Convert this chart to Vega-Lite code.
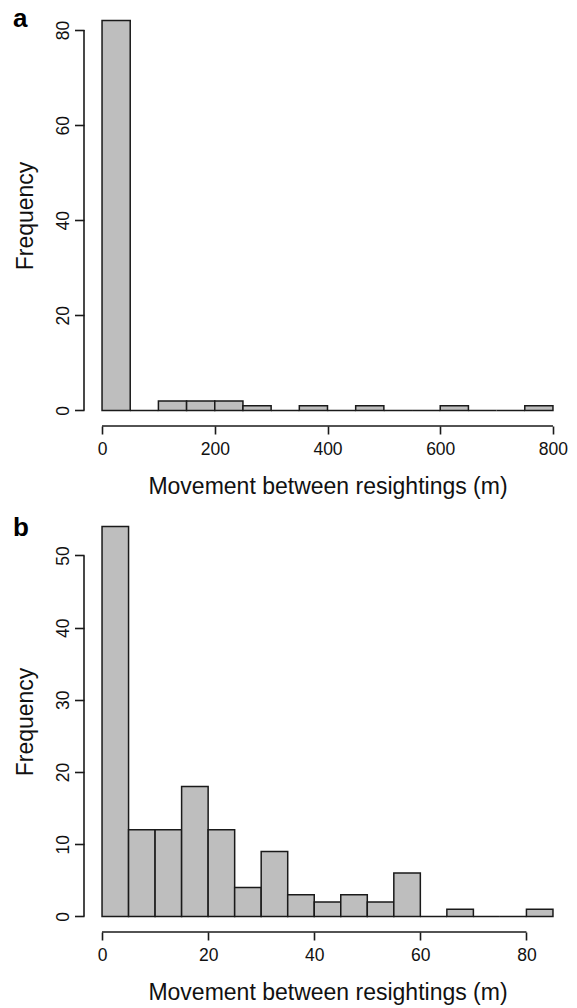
{
  "$schema": "https://vega.github.io/schema/vega-lite/v6.json",
  "padding": {"left": 12, "top": 5, "right": 0, "bottom": 0},
  "autosize": {"type": "pad"},
  "background": "white",
  "datasets": {
    "a": [
      {"bin_start": 0, "bin_end": 50, "count": 82},
      {"bin_start": 50, "bin_end": 100, "count": 0},
      {"bin_start": 100, "bin_end": 150, "count": 2},
      {"bin_start": 150, "bin_end": 200, "count": 2},
      {"bin_start": 200, "bin_end": 250, "count": 2},
      {"bin_start": 250, "bin_end": 300, "count": 1},
      {"bin_start": 300, "bin_end": 350, "count": 0},
      {"bin_start": 350, "bin_end": 400, "count": 1},
      {"bin_start": 400, "bin_end": 450, "count": 0},
      {"bin_start": 450, "bin_end": 500, "count": 1},
      {"bin_start": 500, "bin_end": 550, "count": 0},
      {"bin_start": 550, "bin_end": 600, "count": 0},
      {"bin_start": 600, "bin_end": 650, "count": 1},
      {"bin_start": 650, "bin_end": 700, "count": 0},
      {"bin_start": 700, "bin_end": 750, "count": 0},
      {"bin_start": 750, "bin_end": 800, "count": 1}
    ],
    "b": [
      {"bin_start": 0, "bin_end": 5, "count": 54},
      {"bin_start": 5, "bin_end": 10, "count": 12},
      {"bin_start": 10, "bin_end": 15, "count": 12},
      {"bin_start": 15, "bin_end": 20, "count": 18},
      {"bin_start": 20, "bin_end": 25, "count": 12},
      {"bin_start": 25, "bin_end": 30, "count": 4},
      {"bin_start": 30, "bin_end": 35, "count": 9},
      {"bin_start": 35, "bin_end": 40, "count": 3},
      {"bin_start": 40, "bin_end": 45, "count": 2},
      {"bin_start": 45, "bin_end": 50, "count": 3},
      {"bin_start": 50, "bin_end": 55, "count": 2},
      {"bin_start": 55, "bin_end": 60, "count": 6},
      {"bin_start": 60, "bin_end": 65, "count": 0},
      {"bin_start": 65, "bin_end": 70, "count": 1},
      {"bin_start": 70, "bin_end": 75, "count": 0},
      {"bin_start": 75, "bin_end": 80, "count": 0},
      {"bin_start": 80, "bin_end": 85, "count": 1}
    ]
  },
  "config": {
    "view": {"stroke": null},
    "font": "Liberation Sans",
    "axis": {
      "grid": false,
      "domain": false,
      "labelFont": "Liberation Sans",
      "labelFontSize": 17.5,
      "labelColor": "#111",
      "tickColor": "#1a1a1a",
      "tickWidth": 1.6,
      "titleFont": "Liberation Sans",
      "titleFontSize": 23,
      "titleFontWeight": "normal",
      "titleColor": "#111",
      "labelFlush": false,
      "labelOverlap": false
    },
    "axisX": {"tickSize": 8, "labelPadding": 6, "titlePadding": 18},
    "axisY": {
      "tickSize": 9.5,
      "labelPadding": 6,
      "labelAngle": -90,
      "labelAlign": "center",
      "labelBaseline": "alphabetic",
      "titlePadding": 22,
      "titleAngle": -90,
      "titleBaseline": "alphabetic"
    }
  },
  "spacing": 12,
  "vconcat": [
    {
      "width": 487,
      "height": 421,
      "layer": [
        {
          "data": {"name": "a"},
          "mark": {"type": "bar", "fill": "#bebebe", "stroke": "#1a1a1a", "strokeWidth": 1.5},
          "encoding": {
            "x": {"field": "bin_start", "type": "quantitative", "scale": {"domain": [-32, 832], "nice": false, "zero": false}, "axis": {"values": [0, 200, 400, 600, 800], "title": "Movement between resightings (m)"}},
            "x2": {"field": "bin_end"},
            "y": {"field": "count", "type": "quantitative", "scale": {"domain": [-3.28, 85.28], "nice": false, "zero": false}, "axis": {"values": [0, 20, 40, 60, 80], "title": "Frequency"}},
            "y2": {"datum": 0}
          }
        },
        {
          "data": {"values": [{}]},
          "mark": {"type": "rule", "color": "#1a1a1a", "strokeWidth": 1.6},
          "encoding": {"x": {"datum": 0}, "x2": {"datum": 800}, "y": {"datum": -3.28}}
        },
        {
          "data": {"values": [{}]},
          "mark": {"type": "rule", "color": "#1a1a1a", "strokeWidth": 1.6},
          "encoding": {"x": {"datum": -32}, "y": {"datum": 0}, "y2": {"datum": 80}}
        },
        {
          "data": {"values": [{}]},
          "mark": {"type": "text", "text": "a", "align": "left", "baseline": "alphabetic", "fontSize": 26, "fontWeight": "bold", "font": "Liberation Sans", "color": "#000"},
          "encoding": {"x": {"datum": -158}, "y": {"datum": 80.65}}
        }
      ]
    },
    {
      "width": 487,
      "height": 421,
      "layer": [
        {
          "data": {"name": "b"},
          "mark": {"type": "bar", "fill": "#bebebe", "stroke": "#1a1a1a", "strokeWidth": 1.5},
          "encoding": {
            "x": {"field": "bin_start", "type": "quantitative", "scale": {"domain": [-3.4, 88.4], "nice": false, "zero": false}, "axis": {"values": [0, 20, 40, 60, 80], "title": "Movement between resightings (m)"}},
            "x2": {"field": "bin_end"},
            "y": {"field": "count", "type": "quantitative", "scale": {"domain": [-2.16, 56.16], "nice": false, "zero": false}, "axis": {"values": [0, 10, 20, 30, 40, 50], "title": "Frequency"}},
            "y2": {"datum": 0}
          }
        },
        {
          "data": {"values": [{}]},
          "mark": {"type": "rule", "color": "#1a1a1a", "strokeWidth": 1.6},
          "encoding": {"x": {"datum": 0}, "x2": {"datum": 80}, "y": {"datum": -2.16}}
        },
        {
          "data": {"values": [{}]},
          "mark": {"type": "rule", "color": "#1a1a1a", "strokeWidth": 1.6},
          "encoding": {"x": {"datum": -3.4}, "y": {"datum": 0}, "y2": {"datum": 50}}
        },
        {
          "data": {"values": [{}]},
          "mark": {"type": "text", "text": "b", "align": "left", "baseline": "alphabetic", "fontSize": 26, "fontWeight": "bold", "font": "Liberation Sans", "color": "#000"},
          "encoding": {"x": {"datum": -16.8}, "y": {"datum": 52.7}}
        }
      ]
    }
  ]
}
